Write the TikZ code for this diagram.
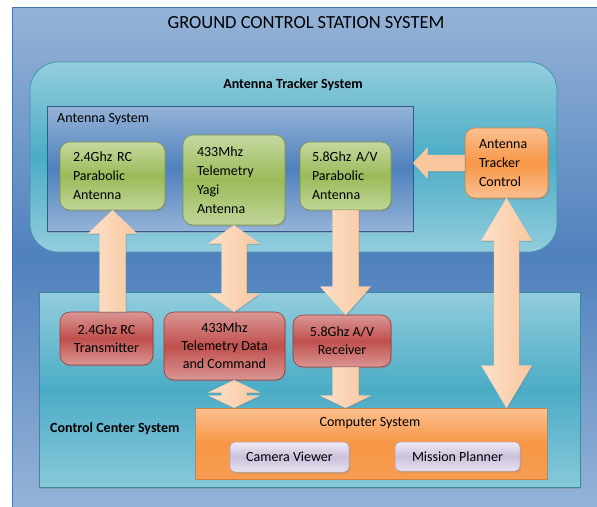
\documentclass[tikz,border=0pt]{standalone}
\usepackage{fontspec}
\setmainfont{Carlito}
\usetikzlibrary{shadows,calc}
\definecolor{bgL}{HTML}{95B3D7}
\definecolor{bgD}{HTML}{4F81BD}
\definecolor{tqL}{HTML}{93CDDD}
\definecolor{tqD}{HTML}{4BACC6}
\definecolor{grL}{HTML}{C5D8A0}
\definecolor{grD}{HTML}{9BBB59}
\definecolor{orL}{HTML}{FAC090}
\definecolor{orD}{HTML}{F79646}
\definecolor{rdL}{HTML}{DA9694}
\definecolor{rdD}{HTML}{C0504D}
\definecolor{lvL}{HTML}{EEEAF4}
\definecolor{lvD}{HTML}{CBC1DC}
\definecolor{pcD}{HTML}{F9C79E}
\definecolor{pcL}{HTML}{FEF1E7}
\tikzset{
  txt/.style={font=\fontsize{14}{19}\selectfont, text=black},
  shad/.style={drop shadow={opacity=.35,shadow xshift=1.2pt,shadow yshift=-1.6pt}},
  trackerbox/.style={draw=tqD!85!black, line width=.7pt, rounded corners=28pt,
     top color=tqL, bottom color=tqL, middle color=tqD, inner sep=0pt},
  antbox/.style={shad, draw=bgD!70!black, line width=.7pt,
     top color=bgL, bottom color=bgL, middle color=bgD, inner sep=0pt},
  ccbox/.style={shad, draw=tqD!80!black, line width=.6pt,
     top color=tqL, bottom color=tqL!85!tqD, middle color=tqD, inner sep=0pt},
  compbox/.style={draw=orD!85!black, line width=.6pt,
     top color=orL, bottom color=orD!85!orL, middle color=orD, inner sep=0pt},
  greenbox/.style={shad, txt, draw=grD!80!black, line width=.6pt, rounded corners=10pt,
     top color=grL, bottom color=grL!90!grD, middle color=grD, align=left, inner ysep=0pt},
  orangebox/.style={shad, txt, draw=orD!85!black, line width=.6pt, rounded corners=10pt,
     top color=orL, bottom color=orL, middle color=orD, align=left, inner ysep=0pt},
  redbox/.style={shad, txt, font=\fontsize{14}{18}\selectfont, draw=rdD!75!black, line width=.6pt,
     rounded corners=10pt, top color=rdL, bottom color=rdL, middle color=rdD, align=center, inner sep=0pt},
  lavbox/.style={shad, txt, draw=lvD!85!black, line width=.5pt, rounded corners=5pt,
     top color=lvL, bottom color=lvL!80!lvD, middle color=lvD, inner sep=0pt},
  blockarrow/.style={shad, draw=pcD!80!white, line width=.4pt,
     left color=pcL!60!pcD, middle color=pcL, right color=pcD},
  blockarrowh/.style={shad, draw=pcD!80!white, line width=.4pt,
     top color=pcD, middle color=pcL, bottom color=pcD},
}
% vertical single block arrow: tip, tail, head length, half head width, half shaft width
\newcommand\vsarrow[5]{%
  \path[blockarrow] let \p1=(#1), \p2=(#2), \n1={sign(\y1-\y2)*#3} in
   (\x1-#5,\y2) -- (\x1-#5,\y1-\n1) -- (\x1-#4,\y1-\n1) -- (\x1,\y1)
   -- (\x1+#4,\y1-\n1) -- (\x1+#5,\y1-\n1) -- (\x1+#5,\y2) -- cycle;}
% vertical double block arrow
\newcommand\vdarrow[5]{%
  \path[blockarrow] let \p1=(#1), \p2=(#2), \n1={sign(\y1-\y2)*#3} in
   (\x1,\y1) -- (\x1+#4,\y1-\n1) -- (\x1+#5,\y1-\n1) -- (\x1+#5,\y2+\n1)
   -- (\x1+#4,\y2+\n1) -- (\x1,\y2) -- (\x1-#4,\y2+\n1) -- (\x1-#5,\y2+\n1)
   -- (\x1-#5,\y1-\n1) -- (\x1-#4,\y1-\n1) -- cycle;}
% horizontal single block arrow
\newcommand\hsarrow[5]{%
  \path[blockarrowh] let \p1=(#1), \p2=(#2), \n1={sign(\x1-\x2)*#3} in
   (\x2,\y1-#5) -- (\x1-\n1,\y1-#5) -- (\x1-\n1,\y1-#4) -- (\x1,\y1)
   -- (\x1-\n1,\y1+#4) -- (\x1-\n1,\y1+#5) -- (\x2,\y1+#5) -- cycle;}
\begin{document}
\begin{tikzpicture}[x=1pt,y=-1pt]
\useasboundingbox (0,0) rectangle (597,506);
\fill[white] (0,0) rectangle (597,506);
% outer background
\node[draw=bgD!90!black, line width=.6pt, top color=bgL, bottom color=bgL, middle color=bgD,
      minimum width=586pt, minimum height=500pt, inner sep=0pt] (gcs) at (305,257) {};
\node[font=\fontsize{18.5}{22}\selectfont] (title) at (306,23) {GROUND CONTROL STATION SYSTEM};

% antenna tracker system
\node[trackerbox, minimum width=527pt, minimum height=190pt] (ats) at (293.5,157) {};
\node[txt, font=\fontsize{14}{19}\selectfont\bfseries, inner sep=0pt] (atsl) at (293,85) {Antenna Tracker System};
\node[antbox, minimum width=366pt, minimum height=125pt] (ants) at (230,168.5) {};
\node[txt, anchor=west, inner sep=0pt] (antsl) at (57,119) {Antenna System};

\node[greenbox, minimum width=105pt, minimum height=68pt, text width=79pt, inner xsep=13pt] (rc) at (112.5,176) {2.4Ghz RC\\Parabolic\\Antenna};
\node[greenbox, minimum width=102pt, minimum height=90pt, text width=74pt, inner xsep=14pt] (yagi) at (234,180) {433Mhz\\Telemetry\\Yagi\\Antenna};
\node[greenbox, minimum width=91pt, minimum height=68pt, text width=67pt, inner xsep=12pt] (p58) at (345.5,176) {5.8Ghz A/V\\Parabolic\\Antenna};
\node[orangebox, minimum width=83pt, minimum height=70pt, text width=55pt, inner xsep=14pt] (tc) at (506.5,163) {Antenna\\Tracker\\Control};

% control center system
\node[ccbox, minimum width=541pt, minimum height=195pt] (ccs) at (309.5,389.5) {};
\node[txt, font=\fontsize{14}{19}\selectfont\bfseries, anchor=west, inner sep=0pt] (ccsl) at (50,429) {Control Center System};

\node[redbox, minimum width=93pt, minimum height=53pt] (tx) at (106.5,338.5) {2.4Ghz RC\\Transmitter};
\node[redbox, minimum width=121pt, minimum height=68pt] (tele) at (224.5,346) {433Mhz\\Telemetry Data\\and Command};
\node[redbox, minimum width=98pt, minimum height=52pt] (recv) at (342,341) {5.8Ghz A/V\\Receiver};

\node[compbox, minimum width=352pt, minimum height=71pt] (comp) at (371,443.5) {};
\node[txt, inner sep=0pt] (compl) at (370,423) {Computer System};
\node[lavbox, minimum width=119pt, minimum height=30pt] (cam) at (289.5,457) {Camera Viewer};
\node[lavbox, minimum width=125pt, minimum height=29pt] (mp) at (457.5,456.5) {Mission Planner};

% arrows
\vsarrow{rc.south}{tx.north -| rc.south}{23pt}{24pt}{13pt}
\vdarrow{yagi.south}{tele.north -| yagi.south}{18pt}{25pt}{12.5pt}
\vsarrow{recv.north -| p58.south}{p58.south}{28pt}{25pt}{13pt}
\vdarrow{tc.south}{comp.north -| tc.south}{42pt}{25pt}{12.5pt}
\vdarrow{tele.south -| yagi.south}{comp.north -| yagi.south}{12pt}{25pt}{12.5pt}
\vsarrow{comp.north -| p58.south}{recv.south -| p58.south}{12pt}{25pt}{13pt}
\hsarrow{ants.east |- tc.west}{tc.west}{14pt}{15pt}{8pt}
\end{tikzpicture}
\end{document}
